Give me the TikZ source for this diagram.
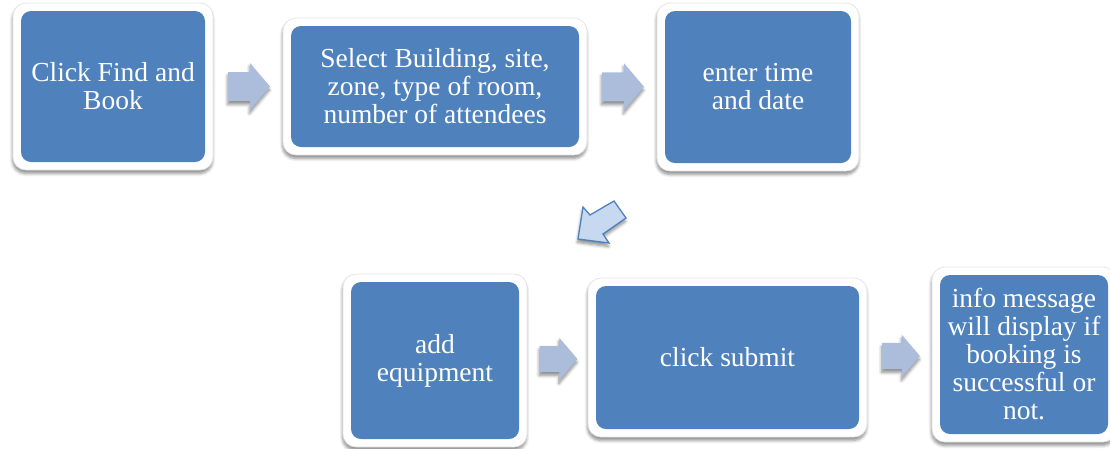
\documentclass[tikz,border=0pt]{standalone}
\usepackage{fontspec}
\setmainfont{Liberation Serif}
\usetikzlibrary{calc,shadows.blur}

\definecolor{stepblue}{RGB}{79,129,189}
\definecolor{arrowblue}{RGB}{172,189,219}
\definecolor{turnfill}{RGB}{198,217,241}

\tikzset{
  softshadow/.style={blur shadow={shadow xshift=-0.5pt, shadow yshift=-3.5pt,
      shadow blur steps=6, shadow blur radius=3pt, shadow opacity=45}},
  stepbox/.style={rectangle, rounded corners=13pt, fill=white, draw=black!10,
    line width=0.8pt, softshadow, text=white, align=center, inner sep=0pt,
    font=\fontsize{27.5}{28}\selectfont,
    path picture={\fill[stepblue, rounded corners=10pt]
      ($(path picture bounding box.south west)+(8pt,8pt)$) rectangle
      ($(path picture bounding box.north east)-(8pt,8pt)$);}},
  pics/flowarrow/.style={code={
    \fill[arrowblue, softshadow]
      (-21,-14.5) -- (1,-14.5) -- (1,-23.5) -- (21,0) -- (1,23.5)
      -- (1,14.5) -- (-21,14.5) -- cycle;}}
}

\begin{document}
\begin{tikzpicture}[x=1pt,y=-1pt]
\useasboundingbox (0,0) rectangle (1110,448);

% process steps
\node[stepbox, minimum width=200pt, minimum height=167pt] (b1) at (113,86.5)
  {Click Find and\\Book};
\node[stepbox, minimum width=304pt, minimum height=137pt] (b2) at (435,86.5)
  {Select Building, site,\\zone, type of room,\\number of attendees};
\node[stepbox, minimum width=202pt, minimum height=168pt] (b3) at (758,87)
  {enter time\\and date};
\node[stepbox, minimum width=184pt, minimum height=173pt] (b4) at (435,360.5)
  {add\\equipment};
\node[stepbox, minimum width=279pt, minimum height=159pt] (b5) at (727.5,357.5)
  {click submit};
\node[stepbox, minimum width=184pt, minimum height=175pt] (b6) at (1024,354.5)
  {info message\\will display if\\booking is\\successful or\\not.};

% block arrows between the steps
\coordinate (m12) at ($(b1.east)!0.5!(b2.west)$);
\coordinate (m23) at ($(b2.east)!0.5!(b3.west)$);
\coordinate (m45) at ($(b4.east)!0.5!(b5.west)$);
\coordinate (m56) at ($(b5.east)!0.5!(b6.west)$);
\pic at ([xshift=1pt]m12) {flowarrow};
\pic at ([xshift=1pt]m23) {flowarrow};
\pic[scale=0.9] at ([xshift=1pt]m45) {flowarrow};
\pic[scale=0.9] at ([xshift=1.5pt]m56) {flowarrow};

% turn arrow from the first row down to the second row
\coordinate (mt) at ($(b3.south west)!0.5!(b4.north east)$);
\filldraw[turnfill, draw=stepblue, line width=1.3pt, line join=miter, softshadow]
  ([shift={(22,-21.5)}]mt) -- ([shift={(34,-4.5)}]mt) -- ([shift={(11,11.5)}]mt)
  -- ([shift={(17,20.5)}]mt) -- ([shift={(-14,16.5)}]mt) -- ([shift={(-9,-15.5)}]mt)
  -- ([shift={(-2,-7.5)}]mt) -- cycle;
\end{tikzpicture}
\end{document}
